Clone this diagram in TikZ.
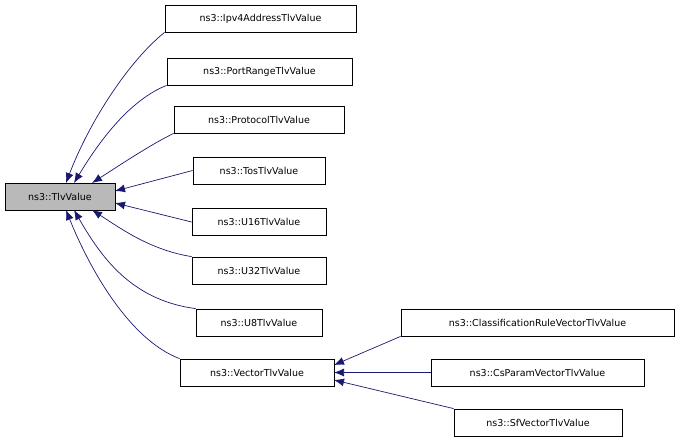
\documentclass[tikz,border=0pt]{standalone}
\usepackage{fontspec}
\setmainfont{DejaVu Sans}
\usetikzlibrary{arrows.meta}
\begin{document}
\begin{tikzpicture}[x=1pt,y=-1pt,
 box/.style={draw=black,fill=white,line width=0.8pt,minimum height=27pt,inner sep=0pt,font=\fontsize{9.5}{11}\selectfont},
 e/.style={draw=midnightblue,line width=0.7pt,{Latex[length=10pt,width=8pt]}-}]
\definecolor{midnightblue}{HTML}{191970}
\useasboundingbox (0,0) rectangle (680,443);
\node[box,fill=gray!55,minimum width=110pt] (t) at (60,196.5) {ns3::TlvValue};
\node[box,minimum width=191pt] (a) at (260.5,18.5) {ns3::Ipv4AddressTlvValue};
\node[box,minimum width=185pt] (b) at (259.5,71.5) {ns3::PortRangeTlvValue};
\node[box,minimum width=170pt] (c) at (259,119.5) {ns3::ProtocolTlvValue};
\node[box,minimum width=132pt] (d) at (259,170.5) {ns3::TosTlvValue};
\node[box,minimum width=134pt] (f) at (259,222) {ns3::U16TlvValue};
\node[box,minimum width=134pt] (g) at (259,270.5) {ns3::U32TlvValue};
\node[box,minimum width=126pt] (h) at (259,322.5) {ns3::U8TlvValue};
\node[box,minimum width=154pt] (v) at (257,372.5) {ns3::VectorTlvValue};
\node[box,minimum width=273pt] (k) at (537.5,322.5) {ns3::ClassificationRuleVectorTlvValue};
\node[box,minimum width=213pt] (l) at (537.5,372.5) {ns3::CsParamVectorTlvValue};
\node[box,minimum width=168pt] (m) at (538,422.5) {ns3::SfVectorTlvValue};
\draw[e] (66,183) .. controls (90,120) and (130,60) .. (a.south west);
\draw[e] (74,183) .. controls (100,140) and (130,100) .. (b.south west);
\draw[e] (92,183) .. controls (120,165) and (150,145) .. (c.south west);
\draw[e] (115,191) -- (d.west);
\draw[e] (115,203) -- (f.west);
\draw[e] (92,210) .. controls (120,228) and (150,250) .. (g.north west);
\draw[e] (74,210) .. controls (100,255) and (130,300) .. (h.north west);
\draw[e] (66,210) .. controls (90,270) and (130,340) .. (v.north west);
\draw[e] (334,365) -- (k.south west);
\draw[e] (334,372.5) -- (l.west);
\draw[e] (334,380) -- (m.north west);
\end{tikzpicture}
\end{document}
